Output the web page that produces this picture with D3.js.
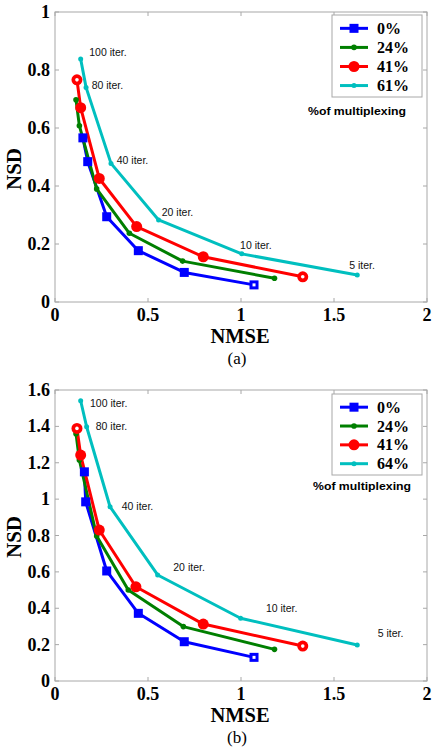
<!DOCTYPE html>
<html><head><meta charset="utf-8">
<script src="https://cdn.jsdelivr.net/npm/d3@7"></script>
<style>body{margin:0;background:#fff}svg{display:block}</style>
</head><body>
<script>
// ---------- DATA ----------
const xTicks = [0, 0.5, 1, 1.5, 2];
const yTicksA = [0, 0.2, 0.4, 0.6, 0.8, 1];
const yTicksB = [0, 0.2, 0.4, 0.6, 0.8, 1, 1.2, 1.4, 1.6];
const legendA = ["0%", "24%", "41%", "61%"];
const legendB = ["0%", "24%", "41%", "64%"];
const iterLabels = ["100 iter.", "80 iter.", "40 iter.", "20 iter.", "10 iter.", "5 iter."];

// panel (a)
const a0_nmse = [0.150, 0.176, 0.278, 0.448, 0.695, 1.070];
const a0_nsd  = [0.566, 0.484, 0.294, 0.177, 0.102, 0.059];
const a24_nmse = [0.113, 0.131, 0.224, 0.400, 0.686, 1.180];
const a24_nsd  = [0.697, 0.608, 0.390, 0.237, 0.141, 0.082];
const a41_nmse = [0.118, 0.138, 0.238, 0.439, 0.797, 1.332];
const a41_nsd  = [0.766, 0.670, 0.426, 0.260, 0.156, 0.087];
const a61_nmse = [0.138, 0.167, 0.301, 0.557, 1.004, 1.625];
const a61_nsd  = [0.838, 0.740, 0.478, 0.283, 0.166, 0.093];
const aLabel_nmse = [0.184, 0.197, 0.332, 0.574, 0.995, 1.582];
const aLabel_nsd  = [0.858, 0.745, 0.484, 0.306, 0.191, 0.124];

// panel (b)
const b0_nmse = [0.158, 0.165, 0.278, 0.448, 0.695, 1.070];
const b0_nsd  = [1.150, 0.985, 0.605, 0.372, 0.216, 0.130];
const b24_nmse = [0.113, 0.131, 0.224, 0.394, 0.690, 1.180];
const b24_nsd  = [1.360, 1.215, 0.797, 0.500, 0.299, 0.174];
const b41_nmse = [0.118, 0.138, 0.238, 0.435, 0.797, 1.332];
const b41_nsd  = [1.389, 1.242, 0.830, 0.518, 0.313, 0.192];
const b64_nmse = [0.138, 0.170, 0.296, 0.552, 0.998, 1.625];
const b64_nsd  = [1.541, 1.398, 0.958, 0.583, 0.345, 0.198];
const bLabel_nmse = [0.188, 0.219, 0.359, 0.636, 1.134, 1.735];
const bLabel_nsd  = [1.521, 1.395, 0.958, 0.620, 0.394, 0.258];

// ---------- STYLE ----------
const colors = ["#0000ff", "#007f00", "#ff0000", "#00bfbf"];
const markers = ["square", "plus", "circle", "dot"];
const serif = "'Liberation Serif','Times New Roman',serif";
const sans = "'Liberation Sans',Arial,sans-serif";

const svg = d3.select("body").append("svg").attr("width", 437).attr("height", 754);

function zip(xs, ys) { return xs.map((x, i) => ({x, y: ys[i]})); }

function drawMarker(g, type, color, cx, cy, hollow) {
  if (type === "square") {
    g.append("rect").attr("x", cx - 4.5).attr("y", cy - 4.5).attr("width", 9).attr("height", 9).attr("fill", color);
    if (hollow) g.append("rect").attr("x", cx - 1.5).attr("y", cy - 1.5).attr("width", 3).attr("height", 3).attr("fill", "#fff");
  } else if (type === "circle") {
    g.append("circle").attr("cx", cx).attr("cy", cy).attr("r", 5.5).attr("fill", color);
    if (hollow) g.append("circle").attr("cx", cx).attr("cy", cy).attr("r", 1.8).attr("fill", "#fff");
  } else if (type === "plus") {
    g.append("circle").attr("cx", cx).attr("cy", cy).attr("r", 2.8).attr("fill", color);
  } else {
    g.append("circle").attr("cx", cx).attr("cy", cy).attr("r", 2.5).attr("fill", color);
  }
}

function drawPanel(cfg) {
  const {top, bottom, yMax, yTicks, series, legend, lbX, lbY, caption,
         legTop, legBot, nsdY, noteX, noteY} = cfg;
  const left = 55, right = 427;
  const x = d3.scaleLinear().domain([0, 2]).range([left, right]);
  const y = d3.scaleLinear().domain([0, yMax]).range([bottom, top]);
  const g = svg.append("g");
  const axisColor = "#a8a8a8";

  // box
  g.append("rect").attr("x", left).attr("y", top).attr("width", right - left).attr("height", bottom - top)
    .attr("fill", "none").attr("stroke", axisColor).attr("stroke-width", 1);

  // ticks (inward on all sides)
  const tl = 4;
  xTicks.forEach(t => {
    g.append("line").attr("x1", x(t)).attr("x2", x(t)).attr("y1", bottom).attr("y2", bottom - tl).attr("stroke", axisColor);
    g.append("line").attr("x1", x(t)).attr("x2", x(t)).attr("y1", top).attr("y2", top + tl).attr("stroke", axisColor);
    g.append("text").attr("x", x(t)).attr("y", bottom + 19).attr("text-anchor", "middle")
      .attr("font-family", serif).attr("font-weight", "bold").attr("font-size", 18).text(d3.format("")(t));
  });
  yTicks.forEach(t => {
    g.append("line").attr("x1", left).attr("x2", left + tl).attr("y1", y(t)).attr("y2", y(t)).attr("stroke", axisColor);
    g.append("line").attr("x1", right).attr("x2", right - tl).attr("y1", y(t)).attr("y2", y(t)).attr("stroke", axisColor);
    g.append("text").attr("x", 50).attr("y", y(t) + 6).attr("text-anchor", "end")
      .attr("font-family", serif).attr("font-weight", "bold").attr("font-size", 18).text(d3.format("")(t));
  });

  // axis labels
  g.append("text").attr("x", 240).attr("y", bottom + 41).attr("text-anchor", "middle")
    .attr("font-family", serif).attr("font-weight", "bold").attr("font-size", 20.5).text("NMSE");
  g.append("text").attr("transform", `translate(21,${nsdY}) rotate(-90)`).attr("text-anchor", "middle")
    .attr("font-family", serif).attr("font-weight", "bold").attr("font-size", 21).text("NSD");
  g.append("text").attr("x", 237).attr("y", bottom + 62).attr("text-anchor", "middle")
    .attr("font-family", serif).attr("font-size", 17).text(caption);

  // lines
  const line = d3.line().x(d => x(d.x)).y(d => y(d.y));
  series.forEach((s, i) => {
    g.append("path").datum(s).attr("d", line).attr("fill", "none").attr("stroke", colors[i])
      .attr("stroke-width", 3).attr("stroke-linejoin", "round");
  });
  series.forEach((s, i) => {
    s.forEach((d, j) => {
      const hollow = (i === 0 && j === s.length - 1) || (i === 2 && (j === 0 || j === s.length - 1));
      drawMarker(g, markers[i], colors[i], x(d.x), y(d.y), hollow);
    });
  });

  // iteration labels
  iterLabels.forEach((t, k) => {
    g.append("text").attr("x", x(lbX[k])).attr("y", y(lbY[k])).attr("dominant-baseline", "middle")
      .attr("font-family", sans).attr("font-size", 10.5).attr("fill", "#111").text(t);
  });

  // legend
  const lgX0 = 332, lgX1 = 422;
  g.append("rect").attr("x", lgX0).attr("y", legTop).attr("width", lgX1 - lgX0).attr("height", legBot - legTop)
    .attr("fill", "#fff").attr("stroke", axisColor);
  const step = (legBot - legTop) / 4.3;
  legend.forEach((name, i) => {
    const ly = legTop + step * (0.7 + i);
    g.append("line").attr("x1", 340).attr("x2", 368).attr("y1", ly).attr("y2", ly)
      .attr("stroke", colors[i]).attr("stroke-width", 3);
    drawMarker(g, markers[i], colors[i], 354, ly, false);
    g.append("text").attr("x", 377).attr("y", ly + 5.5).attr("font-family", serif).attr("font-weight", "bold")
      .attr("font-size", 16).text(name);
  });
  g.append("text").attr("x", noteX).attr("y", noteY).attr("dominant-baseline", "middle")
    .attr("font-family", sans).attr("font-weight", "bold").attr("font-size", 11.5)
    .attr("textLength", 98).attr("lengthAdjust", "spacingAndGlyphs").text("%of multiplexing");
}

drawPanel({
  top: 12, bottom: 302, yMax: 1, yTicks: yTicksA,
  series: [zip(a0_nmse, a0_nsd), zip(a24_nmse, a24_nsd), zip(a41_nmse, a41_nsd), zip(a61_nmse, a61_nsd)],
  legend: legendA, lbX: aLabel_nmse, lbY: aLabel_nsd, caption: "(a)",
  legTop: 15, legBot: 97, nsdY: 169, noteX: 308, noteY: 111.7
});
drawPanel({
  top: 390, bottom: 681, yMax: 1.6, yTicks: yTicksB,
  series: [zip(b0_nmse, b0_nsd), zip(b24_nmse, b24_nsd), zip(b41_nmse, b41_nsd), zip(b64_nmse, b64_nsd)],
  legend: legendB, lbX: bLabel_nmse, lbY: bLabel_nsd, caption: "(b)",
  legTop: 394, legBot: 475, nsdY: 537, noteX: 313, noteY: 487.3
});
</script>
</body></html>
